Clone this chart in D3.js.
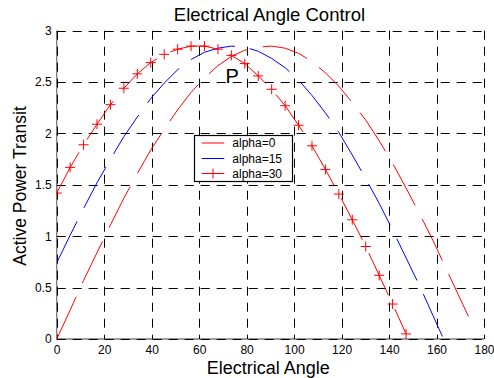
<!DOCTYPE html>
<html>
<head>
<meta charset="utf-8">
<script src="https://cdn.jsdelivr.net/npm/d3@7"></script>
<style>
  html, body { margin: 0; padding: 0; background: #fff; }
  svg { display: block; }
  text { font-family: "Liberation Sans", Arial, sans-serif; fill: #000; }
</style>
</head>
<body>
<svg id="chart" width="494" height="378"></svg>
<script>
// Load angle samples (degrees) shared by all three curves
const angles = [0, 5.66, 11.32, 16.98, 22.64, 28.3, 33.96, 39.62, 45.28, 50.94,
  56.6, 62.26, 67.92, 73.58, 79.24, 84.9, 90.56, 96.22, 101.88, 107.54,
  113.2, 118.86, 124.52, 130.18, 135.84, 141.5, 147.16, 152.82, 158.48, 164.14,
  169.8, 175.46];

// Active power transferred for each control angle alpha
const power0 = [0, 0.28, 0.57, 0.84, 1.11, 1.37, 1.61, 1.84, 2.04, 2.23,
  2.40, 2.54, 2.66, 2.75, 2.81, 2.84, 2.85, 2.83, 2.78, 2.70,
  2.59, 2.46, 2.30, 2.13, 1.93, 1.71, 1.47, 1.22, 0.96, 0.68,
  0.40, 0.12];
const power15 = [0.74, 1.01, 1.27, 1.52, 1.75, 1.97, 2.16, 2.34, 2.49, 2.62,
  2.72, 2.79, 2.83, 2.85, 2.84, 2.80, 2.73, 2.64, 2.52, 2.37,
  2.20, 2.01, 1.79, 1.56, 1.32, 1.06, 0.79, 0.52, 0.23, -0.06];
const power30 = [1.42, 1.67, 1.89, 2.09, 2.28, 2.44, 2.58, 2.69, 2.77, 2.82,
  2.85, 2.85, 2.82, 2.76, 2.68, 2.56, 2.43, 2.27, 2.08, 1.88,
  1.65, 1.41, 1.16, 0.90, 0.62, 0.34, 0.05];

const seriesNames = ["alpha=0", "alpha=15", "alpha=30"];
const seriesColors = ["#ff0000", "#0000ff", "#ff0000"];
const seriesMarkers = [false, false, true];

const xTicks = [0, 20, 40, 60, 80, 100, 120, 140, 160, 180];
const yTicks = [0, 0.5, 1, 1.5, 2, 2.5, 3];

const titleText = "Electrical Angle Control";
const xLabel = "Electrical Angle";
const yLabel = "Active Power Transit";
const noteText = "P";

const svg = d3.select("#chart");
const W = 494, H = 378;
const plot = { left: 56.7, right: 484, top: 30.7, bottom: 339 };

const x = d3.scaleLinear().domain([0, 180]).range([plot.left, plot.right]);
const y = d3.scaleLinear().domain([0, 3]).range([plot.bottom, plot.top]);

svg.append("rect").attr("width", W).attr("height", H).attr("fill", "#fff");

svg.append("defs").append("clipPath").attr("id", "plotClip")
  .append("rect")
  .attr("x", plot.left).attr("y", plot.top)
  .attr("width", plot.right - plot.left).attr("height", plot.bottom - plot.top);

// Solid grey axis lines on the left and bottom
svg.append("line")
  .attr("x1", plot.left).attr("x2", plot.right)
  .attr("y1", plot.bottom).attr("y2", plot.bottom)
  .attr("stroke", "#7a7a7a").attr("stroke-width", 1.3);
svg.append("line")
  .attr("x1", plot.left).attr("x2", plot.left)
  .attr("y1", plot.top).attr("y2", plot.bottom)
  .attr("stroke", "#7a7a7a").attr("stroke-width", 1.3);

// Dashed grid
const grid = svg.append("g").attr("stroke", "#000").attr("stroke-width", 1)
  .attr("stroke-dasharray", "9,7").attr("fill", "none");
grid.selectAll("line.vx").data(xTicks).join("line")
  .attr("class", "vx")
  .attr("x1", d => Math.round(x(d)) + 0.5).attr("x2", d => Math.round(x(d)) + 0.5)
  .attr("y1", plot.top).attr("y2", plot.bottom);
grid.selectAll("line.hy").data(yTicks).join("line")
  .attr("class", "hy")
  .attr("y1", d => Math.round(y(d)) + 0.5).attr("y2", d => Math.round(y(d)) + 0.5)
  .attr("x1", plot.left).attr("x2", plot.right);

// Tick labels
const xAxis = svg.append("g")
  .attr("transform", `translate(0,${plot.bottom})`)
  .call(d3.axisBottom(x).tickValues(xTicks).tickSize(0).tickPadding(6).tickFormat(d => String(d)));
const yAxis = svg.append("g")
  .attr("transform", `translate(${plot.left},0)`)
  .call(d3.axisLeft(y).tickValues(yTicks).tickSize(0).tickPadding(5).tickFormat(d => String(d)));
[xAxis, yAxis].forEach(a => {
  a.select(".domain").remove();
  a.selectAll("text")
    .style("font-family", '"Liberation Sans", Arial, sans-serif')
    .style("font-size", "12px").attr("fill", "#000");
});

// Curves
const line = d3.line()
  .x((d, i) => x(angles[i]))
  .y(d => y(d));

const curves = svg.append("g").attr("clip-path", "url(#plotClip)");
const seriesData = [power0, power15, power30];
seriesData.forEach((vals, k) => {
  curves.append("path")
    .datum(vals)
    .attr("d", line)
    .attr("fill", "none")
    .attr("stroke", seriesColors[k])
    .attr("stroke-width", 1)
    .attr("stroke-dasharray", "46.5,15");
  if (seriesMarkers[k]) {
    curves.selectAll("path.mk" + k)
      .data(vals)
      .join("path")
      .attr("class", "mk" + k)
      .attr("d", "M-5,0H5M0,-5V5")
      .attr("transform", (d, i) => `translate(${x(angles[i])},${y(d)})`)
      .attr("stroke", seriesColors[k])
      .attr("stroke-width", 1)
      .attr("fill", "none");
  }
});

// Annotation
svg.append("text")
  .attr("x", 225.5).attr("y", 83.3)
  .style("font-size", "20px")
  .text(noteText);

// Legend
const lg = svg.append("g");
lg.append("rect")
  .attr("x", 194.5).attr("y", 135.5)
  .attr("width", 98).attr("height", 46)
  .attr("fill", "#fff").attr("stroke", "#000").attr("stroke-width", 1.2);
const rowsY = [143, 158.5, 173.5];
seriesNames.forEach((name, k) => {
  lg.append("line")
    .attr("x1", 201.7).attr("x2", 224.3)
    .attr("y1", rowsY[k]).attr("y2", rowsY[k])
    .attr("stroke", seriesColors[k]).attr("stroke-width", 1);
  if (seriesMarkers[k]) {
    lg.append("path")
      .attr("d", "M-5,0H5M0,-5V5")
      .attr("transform", `translate(213,${rowsY[k]})`)
      .attr("stroke", seriesColors[k]).attr("fill", "none");
  }
  lg.append("text")
    .attr("x", 232.3).attr("y", rowsY[k] + 4.2)
    .style("font-size", "12px")
    .text(name);
});

// Title and axis labels
svg.append("text")
  .attr("x", 269.5).attr("y", 20.7)
  .attr("text-anchor", "middle")
  .style("font-size", "18.5px")
  .text(titleText);
svg.append("text")
  .attr("x", 268.3).attr("y", 373.5)
  .attr("text-anchor", "middle")
  .style("font-size", "18px")
  .text(xLabel);
svg.append("text")
  .attr("transform", "translate(26,186) rotate(-90)")
  .attr("text-anchor", "middle")
  .style("font-size", "17.5px")
  .text(yLabel);
</script>
</body>
</html>
